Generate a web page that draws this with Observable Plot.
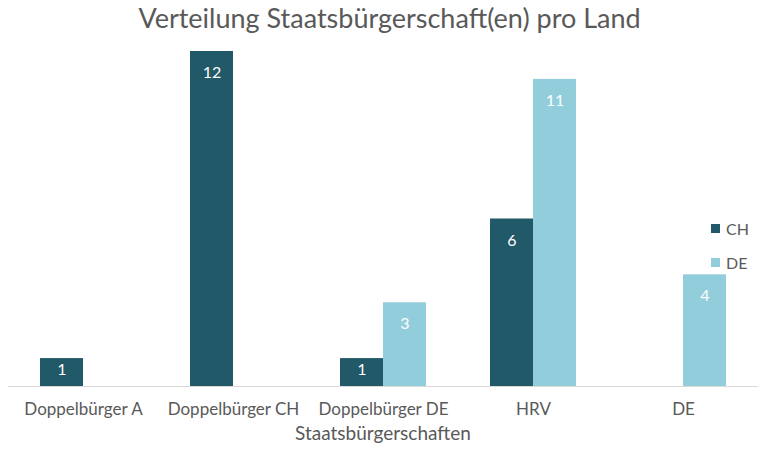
<!DOCTYPE html>
<html><head><meta charset="utf-8">
<script src="https://cdn.jsdelivr.net/npm/d3@7"></script>
<script src="https://cdn.jsdelivr.net/npm/@observablehq/plot@0.6"></script>
<style>
body{margin:0;background:#fff;font-family:Lato,sans-serif;}
#wrap{position:relative;width:779px;height:450px;overflow:hidden;}
#title{position:absolute;top:1px;left:0;width:779px;text-align:center;font-size:27px;color:#595959;white-space:nowrap;}
#xlabel{position:absolute;top:421px;left:183px;width:400px;text-align:center;font-size:19px;color:#595959;}
#legend{position:absolute;left:711px;top:217px;font-size:16px;color:#595959;}
.li{display:flex;align-items:center;height:22px;margin-bottom:12px;}
.sw{width:9px;height:9px;margin-right:6px;}
#chart{position:absolute;left:0;top:0;}
</style></head>
<body>
<div id="wrap">
  <div id="chart"></div>
  <div id="title">Verteilung Staatsbürgerschaft(en) pro Land</div>
  <div id="xlabel">Staatsbürgerschaften</div>
  <div id="legend"></div>
</div>
<script>
const categories = ["Doppelbürger A","Doppelbürger CH","Doppelbürger DE","HRV","DE"];
const series = ["CH","DE"];
const chValues = [1,12,1,6,null];
const deValues = [null,null,3,11,4];
const colors = ["#215968","#92CDDC"];

const rows = [];
categories.forEach((c,i)=>{
  if (chValues[i] != null) rows.push({category:c, series:"CH", value:chValues[i]});
  if (deValues[i] != null) rows.push({category:c, series:"DE", value:deValues[i]});
});

const chart = Plot.plot({
  width:779, height:450,
  marginLeft:7, marginRight:21, marginTop:51, marginBottom:64,
  style:{fontFamily:"Lato, sans-serif", fontSize:"17px", color:"#595959", background:"#fff"},
  fx:{domain:categories, paddingInner:0, paddingOuter:0, label:null, axis:"bottom", tickSize:0, tickPadding:16},
  x:{domain:series, axis:null, paddingInner:0, paddingOuter:0.72},
  y:{domain:[0,12], axis:null},
  color:{domain:series, range:colors},
  marks:[
    Plot.barY(rows,{fx:"category", x:"series", y:"value", fill:"series"}),
    Plot.ruleY([0],{stroke:"#d9d9d9", strokeWidth:1}),
    Plot.text(rows,{fx:"category", x:"series", y:d=>d.value - (d.value>1 ? 0.77 : 0.4), text:"value", fill:"white", fontSize:16})
  ]
});
document.getElementById("chart").appendChild(chart);

const legend = document.getElementById("legend");
series.forEach((s,i)=>{
  const d = document.createElement("div"); d.className="li";
  d.innerHTML = `<span class="sw" style="background:${colors[i]}"></span><span>${s}</span>`;
  legend.appendChild(d);
});
</script>
</body></html>
